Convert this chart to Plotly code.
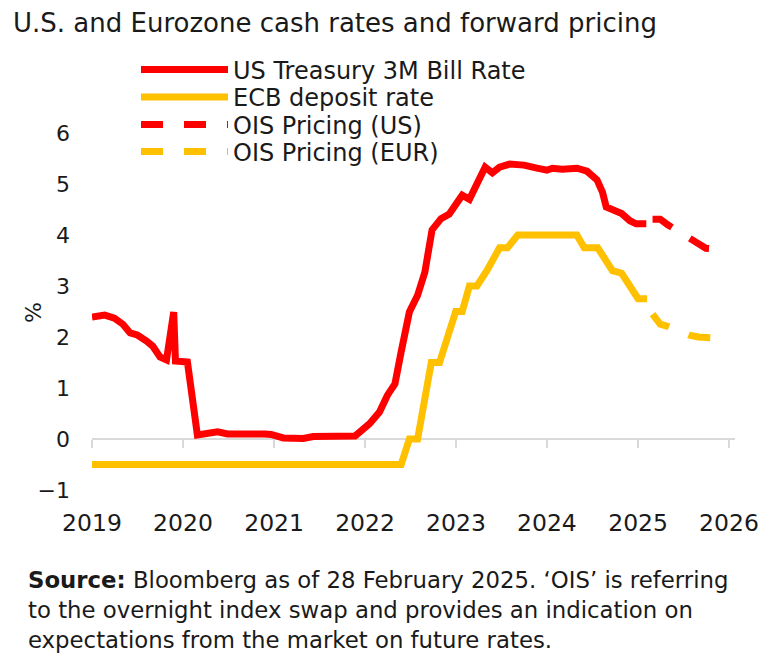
import plotly.graph_objects as go

# ---------------- data ----------------
us_dates = [
    "2019-01-01", "2019-02-21", "2019-04-01", "2019-05-05", "2019-06-03", "2019-07-02",
    "2019-08-08", "2019-09-02", "2019-10-01", "2019-10-27", "2019-11-25", "2019-12-02",
    "2020-01-19", "2020-02-28", "2020-05-19", "2020-06-28", "2020-11-25", "2020-12-20",
    "2021-02-07", "2021-04-28", "2021-06-07", "2021-08-26", "2021-11-22", "2022-01-19",
    "2022-02-28", "2022-04-01", "2022-05-01", "2022-05-26", "2022-06-28", "2022-07-31",
    "2022-08-29", "2022-09-27", "2022-11-02", "2022-12-05", "2022-12-28", "2023-01-26",
    "2023-02-24", "2023-03-26", "2023-04-28", "2023-05-27", "2023-06-25", "2023-08-04",
    "2023-10-01", "2023-11-22", "2024-01-01", "2024-01-23", "2024-03-03", "2024-05-01",
    "2024-06-10", "2024-07-20", "2024-08-11", "2024-08-26", "2024-09-21", "2024-10-27",
    "2024-11-29", "2024-12-24", "2025-02-03",
]
us_rate = [
    2.39, 2.43, 2.37, 2.25, 2.08, 2.04,
    1.92, 1.82, 1.61, 1.55, 2.49, 1.53,
    1.51, 0.08, 0.14, 0.10, 0.10, 0.09,
    0.02, 0.01, 0.05, 0.04, 0.06, 0.30,
    0.53, 0.86, 1.08, 1.71, 2.49, 2.82,
    3.27, 4.10, 4.32, 4.41, 4.60, 4.78,
    4.70, 5.04, 5.33, 5.22, 5.33, 5.39,
    5.37, 5.31, 5.27, 5.31, 5.29, 5.31,
    5.25, 5.08, 4.84, 4.55, 4.51, 4.42,
    4.28, 4.22, 4.22,
]

ecb_dates = [
    "2019-01-01", "2022-05-26", "2022-06-28", "2022-07-31", "2022-09-24", "2022-10-27",
    "2022-12-31", "2023-01-26", "2023-02-24", "2023-03-26", "2023-05-05", "2023-06-25",
    "2023-07-27", "2023-09-06", "2024-04-30", "2024-05-30", "2024-07-23", "2024-09-20",
    "2024-10-27", "2025-01-01", "2025-02-06",
]
ecb_rate = [
    -0.50, -0.50, 0.00, 0.00, 1.50, 1.50,
    2.50, 2.50, 3.00, 3.00, 3.30, 3.75,
    3.75, 4.00, 4.00, 3.75, 3.75, 3.30,
    3.25, 2.75, 2.75,
]

ois_us_dates = ["2025-02-28", "2025-03-31", "2025-04-30", "2025-05-31", "2025-06-30",
                "2025-07-31", "2025-08-31", "2025-09-30", "2025-10-28"]
ois_us = [4.31, 4.31, 4.20, 4.10, 4.02, 3.94, 3.82, 3.74, 3.73]

ois_eur_dates = ["2025-02-28", "2025-03-31", "2025-04-30", "2025-05-31", "2025-06-30",
                 "2025-07-31", "2025-08-31", "2025-09-30", "2025-11-08"]
ois_eur = [2.45, 2.25, 2.21, 2.15, 2.08, 2.03, 2.00, 1.99, 1.98]

year_ticks = ["2019-01-01", "2020-01-01", "2021-01-01", "2022-01-01",
              "2023-01-01", "2024-01-01", "2025-01-01", "2026-01-01"]
year_labels = ["2019", "2020", "2021", "2022", "2023", "2024", "2025", "2026"]

names = ["US Treasury 3M Bill Rate", "ECB deposit rate", "OIS Pricing (US)", "OIS Pricing (EUR)"]
RED = "#FF0000"
GOLD = "#FFC000"
FONT = "DejaVu Sans"
TXT = "#1a1a1a"

# page has an 8px body margin: lay the figure out in page pixels minus that offset
OFF = 8
W, H = 780 - OFF, 660 - OFF
# plot area in page pixels: x 92..735, y 133..490
P_L, P_R, P_T, P_B = 92, 735, 133, 490
ML, MR, MT, MB = P_L - OFF, W - (P_R - OFF), P_T - OFF, H - (P_B - OFF)
plot_w = P_R - P_L
plot_h = P_B - P_T


def px_x(px):
    return (px - P_L) / plot_w


def px_y(py):
    return (P_B - py) / plot_h


# ---------------- figure ----------------
fig = go.Figure()

fig.add_trace(go.Scatter(x=us_dates, y=us_rate, name=names[0], mode="lines",
                         line=dict(color=RED, width=7), legend="legend"))
fig.add_trace(go.Scatter(x=ecb_dates, y=ecb_rate, name=names[1], mode="lines",
                         line=dict(color=GOLD, width=7), legend="legend2"))
fig.add_trace(go.Scatter(x=ois_us_dates, y=ois_us, name=names[2], mode="lines",
                         line=dict(color=RED, width=7, dash="22px,21px"), legend="legend3"))
fig.add_trace(go.Scatter(x=ois_eur_dates, y=ois_eur, name=names[3], mode="lines",
                         line=dict(color=GOLD, width=7, dash="22px,21px"), legend="legend4"))
# carrier for the zero-level axis line
fig.add_trace(go.Scatter(x=[year_ticks[0]], y=[None], xaxis="x2", showlegend=False,
                         hoverinfo="skip", mode="lines"))

ymin, ymax = -1, 6


def leg(py):
    return dict(x=px_x(136), y=px_y(py),
                xref="paper", yref="paper",
                xanchor="left", yanchor="middle",
                font=dict(size=24, family=FONT, color=TXT),
                bgcolor="rgba(0,0,0,0)", itemwidth=87)


legend_rows_px = [70, 97.5, 125, 152]

fig.update_layout(
    width=W, height=H,
    margin=dict(l=ML, r=MR, t=MT, b=MB),
    paper_bgcolor="white", plot_bgcolor="white",
    font=dict(family=FONT, color=TXT),
    showlegend=True,
    legend=leg(legend_rows_px[0]),
    legend2=leg(legend_rows_px[1]),
    legend3=leg(legend_rows_px[2]),
    legend4=leg(legend_rows_px[3]),
    title=dict(text="U.S. and Eurozone cash rates and forward pricing",
               x=(5 - OFF + 8) / W, xanchor="left", xref="container",
               y=1 - (23 - OFF) / H, yanchor="middle", yref="container",
               font=dict(size=26, family=FONT, color=TXT)),
    xaxis=dict(type="date", range=["2019-01-01", "2026-01-25"],
               tickvals=year_ticks, ticktext=year_labels,
               showgrid=False, zeroline=False, showline=False, ticks="",
               tickfont=dict(size=23.5, family=FONT, color=TXT),
               ticklabelstandoff=16, automargin=False),
    xaxis2=dict(type="date", matches="x", overlaying="x", anchor="free",
                position=(0 - ymin) / (ymax - ymin),
                tickvals=year_ticks, showticklabels=False,
                showgrid=False, zeroline=False,
                showline=True, linecolor="#D9D9D9", linewidth=2,
                ticks="outside", ticklen=8, tickwidth=2, tickcolor="#D9D9D9",
                layer="below traces", automargin=False),
    yaxis=dict(range=[ymin, ymax], dtick=1, tick0=0,
               showgrid=False, zeroline=False, showline=False, ticks="",
               tickfont=dict(size=22, family=FONT, color=TXT),
               ticklabelstandoff=21, automargin=False),
)

# y-axis unit label
fig.add_annotation(text="%", xref="paper", yref="paper",
                   x=px_x(33), y=px_y(313),
                   xanchor="center", yanchor="middle", textangle=-90, showarrow=False,
                   font=dict(size=22, family=FONT, color=TXT))

# source note, three lines
foot_lines = [
    "<b>Source:</b> Bloomberg as of 28 February 2025. ‘OIS’ is referring",
    "to the overnight index swap and provides an indication on",
    "expectations from the market on future rates.",
]
foot_y_px = [580, 610, 640]
for txt, py in zip(foot_lines, foot_y_px):
    fig.add_annotation(text=txt, xref="paper", yref="paper",
                       x=px_x(26), y=px_y(py),
                       xanchor="left", yanchor="middle", showarrow=False,
                       font=dict(size=22.8, family=FONT, color=TXT))

fig.write_html("out.html")
